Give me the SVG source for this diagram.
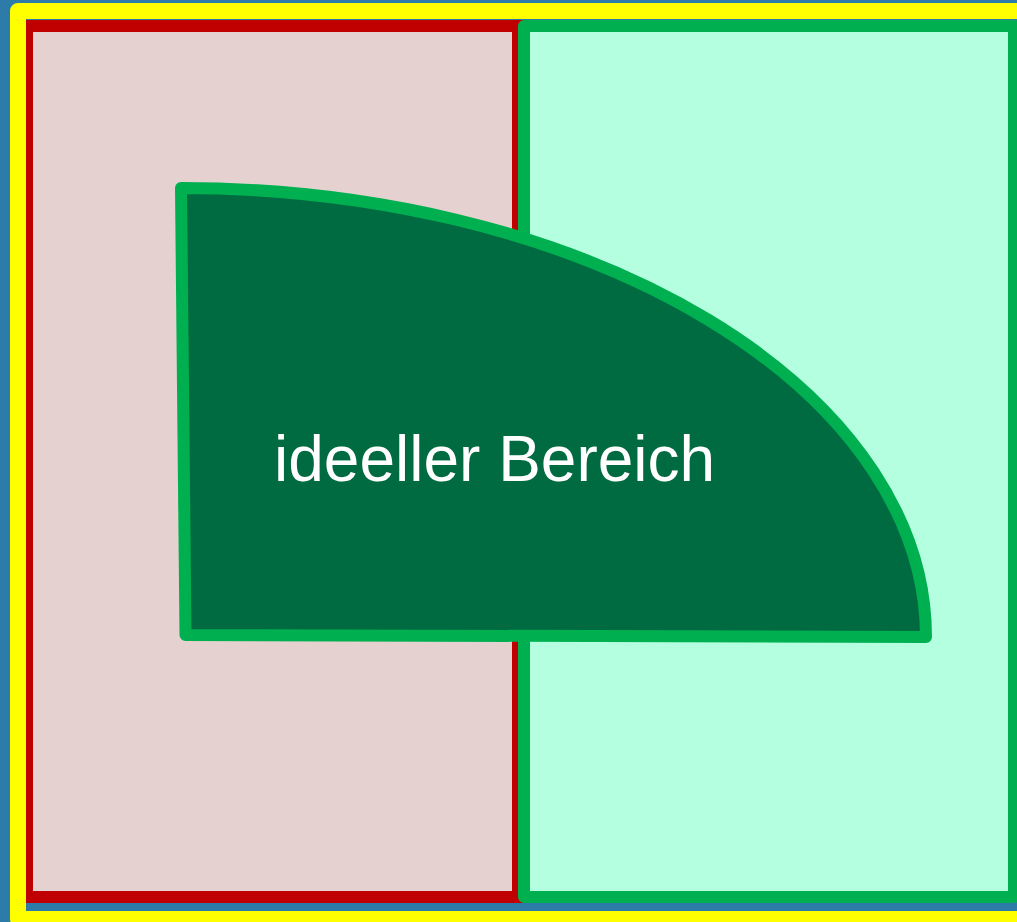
<svg xmlns="http://www.w3.org/2000/svg" width="1017" height="922" viewBox="0 0 1017 922">
<style>
.red{fill:#E5D1CF;stroke:#C00000;stroke-width:12;stroke-linejoin:miter}
.green{fill:#B3FFE0;stroke:#00B050;stroke-width:12;stroke-linejoin:round}
.frame{fill:none;stroke:#FFFF00;stroke-width:16;stroke-linejoin:round}
.ideal{fill:#006B40;stroke:#00B050;stroke-width:12;stroke-linejoin:round}
.label{fill:#FFFFFF;font-family:"Liberation Sans",Arial,sans-serif;font-size:64px}
</style>
<rect x="0" y="0" width="1017" height="922" fill="#2C7BA8"/>
<g id="red-area"><rect class="red" x="27" y="26" width="491" height="871"/></g>
<g id="green-area"><rect class="green" x="524" y="26" width="490" height="871"/></g>
<g id="frame"><rect class="frame" x="18" y="11" width="1010" height="908"/></g>
<g id="ideal-area">
<path class="ideal" d="M181,188 A745,449 0 0 1 926,637 L185.5,635 Z"/>
<text class="label" x="274" y="481">ideeller Bereich</text>
</g>
<g id="connectors"/>
</svg>
